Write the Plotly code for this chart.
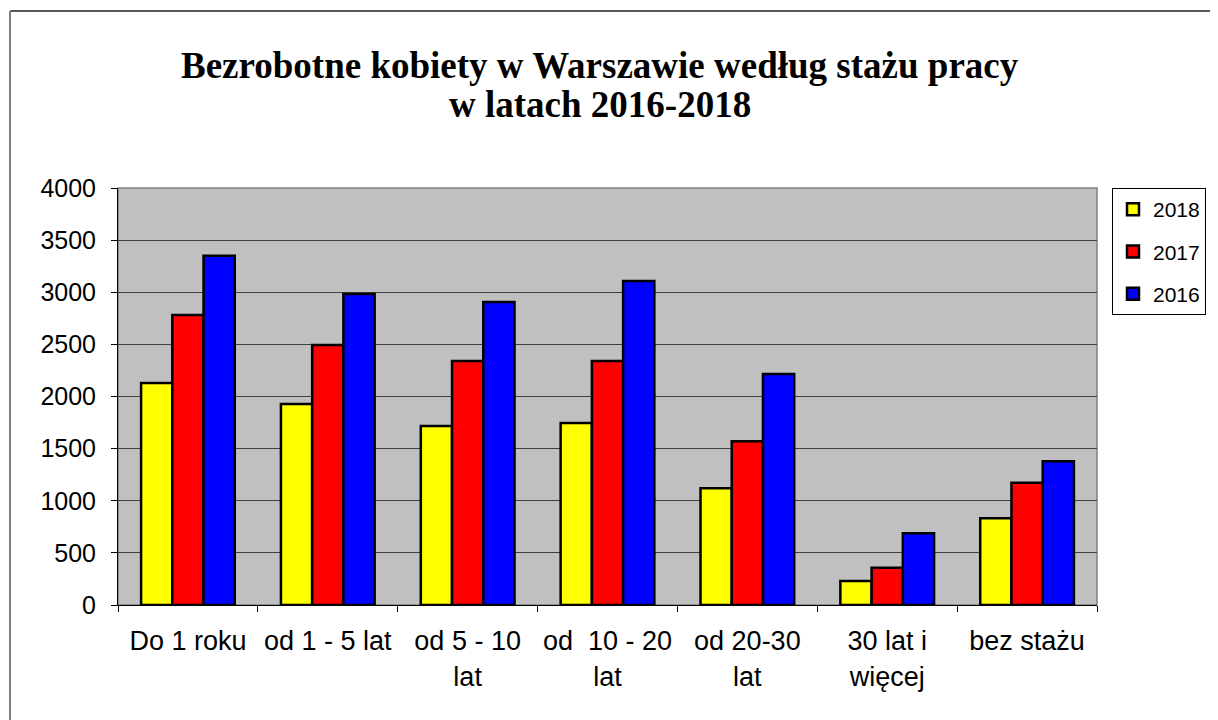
import plotly.graph_objects as go

categories = [
    "Do 1 roku",
    "od 1 - 5 lat",
    "od 5 - 10<br>lat",
    "od  10 - 20<br>lat",
    "od 20-30<br>lat",
    "30 lat i<br>więcej",
    "bez stażu",
]
years = ["2018", "2017", "2016"]
values_2018 = [2130, 1928, 1717, 1746, 1120, 230, 832]
values_2017 = [2782, 2494, 2340, 2340, 1570, 358, 1173]
values_2016 = [3351, 2983, 2906, 3108, 2216, 688, 1378]
colors = ["#FFFF00", "#FF0000", "#0000FF"]
title_lines = ["Bezrobotne kobiety w Warszawie według stażu pracy", "w latach 2016-2018"]

# the page body adds an 8px margin, so work in page pixels minus 8
OFF = 8
W, H = 1218 - OFF, 720 - OFF
L, R, T, B = 118 - OFF, 1097 - OFF, 188 - OFF, 605 - OFF


def px_x(x):
    return (x - OFF - L) / (R - L)


def px_y(y):
    return (B - (y - OFF)) / (B - T)


fig = go.Figure()
for name, vals, col in zip(years, [values_2018, values_2017, values_2016], colors):
    fig.add_trace(
        go.Bar(
            x=categories,
            y=vals,
            name=name,
            legendgroup=name,
            marker=dict(color=col, line=dict(color="black", width=2.5)),
        )
    )

# outer frame (only top and left edges visible)
fig.add_shape(type="line", xref="paper", yref="paper",
              x0=px_x(10), x1=px_x(1230), y0=px_y(11), y1=px_y(11),
              line=dict(color="#202020", width=1.5))
fig.add_shape(type="line", xref="paper", yref="paper",
              x0=px_x(10), x1=px_x(10), y0=px_y(11), y1=px_y(730),
              line=dict(color="#808080", width=2))
# plot area border
fig.add_shape(type="rect", xref="paper", yref="paper",
              x0=0, x1=1, y0=0, y1=1,
              line=dict(color="#808080", width=1.5), layer="below")

# title as two annotations for tighter line spacing
for line, yc in zip(title_lines, [65, 105]):
    fig.add_annotation(
        text=f"<b>{line}</b>",
        xref="paper", yref="paper",
        x=px_x(600), y=px_y(yc),
        xanchor="center", yanchor="middle",
        showarrow=False,
        font=dict(family="Liberation Serif", size=37, color="black"),
    )

fig.update_layout(
    width=W,
    height=H,
    font=dict(family="Liberation Sans", size=26, color="black"),
    paper_bgcolor="white",
    plot_bgcolor="#C0C0C0",
    barmode="group",
    bargap=0.33,
    bargroupgap=0,
    xaxis=dict(
        showgrid=False,
        showline=True,
        linecolor="black",
        linewidth=1,
        ticks="outside",
        tickson="boundaries",
        ticklen=6,
        tickcolor="black",
        tickfont=dict(size=27),
        ticklabelstandoff=12,
    ),
    yaxis=dict(
        range=[0, 4000],
        dtick=500,
        showgrid=True,
        gridcolor="#404040",
        gridwidth=1,
        showline=True,
        linecolor="black",
        linewidth=1,
        ticks="outside",
        ticklen=6,
        tickcolor="black",
        tickfont=dict(size=25),
        ticklabelstandoff=10,
        zeroline=False,
    ),
    legend=dict(
        x=px_x(1112),
        y=1.0,
        xanchor="left",
        yanchor="top",
        bgcolor="white",
        bordercolor="black",
        borderwidth=1,
        font=dict(size=21),
        itemwidth=30,
        tracegroupgap=12,
    ),
    margin=dict(l=L, r=W - R, t=T, b=H - B, autoexpand=False),
    showlegend=True,
)

fig.write_html("out.html")
